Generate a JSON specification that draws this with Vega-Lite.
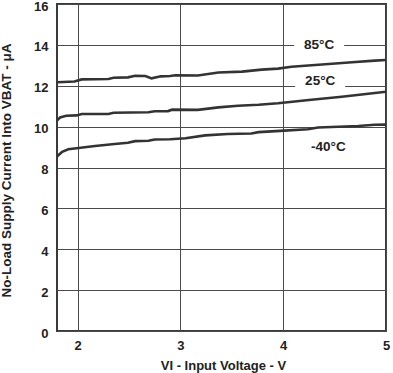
{
  "$schema": "https://vega.github.io/schema/vega-lite/v6.json",
  "width": 329,
  "height": 327,
  "autosize": {"type": "none"},
  "padding": {"left": 57, "top": 4, "right": 7, "bottom": 42},
  "background": "white",
  "config": {
    "font": "Liberation Sans",
    "view": {"stroke": "#3a3a3a", "strokeWidth": 2}
  },
  "datasets": {
    "curves": [
      {"v": 1.8, "i": 12.17, "t": "85°C"},
      {"v": 1.97, "i": 12.21, "t": "85°C"},
      {"v": 2.04, "i": 12.31, "t": "85°C"},
      {"v": 2.3, "i": 12.33, "t": "85°C"},
      {"v": 2.35, "i": 12.39, "t": "85°C"},
      {"v": 2.49, "i": 12.41, "t": "85°C"},
      {"v": 2.56, "i": 12.49, "t": "85°C"},
      {"v": 2.66, "i": 12.48, "t": "85°C"},
      {"v": 2.72, "i": 12.36, "t": "85°C"},
      {"v": 2.81, "i": 12.46, "t": "85°C"},
      {"v": 2.9, "i": 12.48, "t": "85°C"},
      {"v": 2.95, "i": 12.51, "t": "85°C"},
      {"v": 3.17, "i": 12.5, "t": "85°C"},
      {"v": 3.37, "i": 12.65, "t": "85°C"},
      {"v": 3.6, "i": 12.69, "t": "85°C"},
      {"v": 3.79, "i": 12.79, "t": "85°C"},
      {"v": 3.95, "i": 12.84, "t": "85°C"},
      {"v": 4.08, "i": 12.93, "t": "85°C"},
      {"v": 4.41, "i": 13.05, "t": "85°C"},
      {"v": 4.67, "i": 13.15, "t": "85°C"},
      {"v": 4.89, "i": 13.23, "t": "85°C"},
      {"v": 5.0, "i": 13.26, "t": "85°C"},
      {"v": 1.8, "i": 10.29, "t": "25°C"},
      {"v": 1.83, "i": 10.45, "t": "25°C"},
      {"v": 1.89, "i": 10.53, "t": "25°C"},
      {"v": 1.99, "i": 10.55, "t": "25°C"},
      {"v": 2.04, "i": 10.62, "t": "25°C"},
      {"v": 2.3, "i": 10.62, "t": "25°C"},
      {"v": 2.35, "i": 10.68, "t": "25°C"},
      {"v": 2.69, "i": 10.7, "t": "25°C"},
      {"v": 2.75, "i": 10.75, "t": "25°C"},
      {"v": 2.88, "i": 10.76, "t": "25°C"},
      {"v": 2.92, "i": 10.83, "t": "25°C"},
      {"v": 3.17, "i": 10.82, "t": "25°C"},
      {"v": 3.37, "i": 10.94, "t": "25°C"},
      {"v": 3.56, "i": 11.02, "t": "25°C"},
      {"v": 3.76, "i": 11.07, "t": "25°C"},
      {"v": 3.95, "i": 11.14, "t": "25°C"},
      {"v": 4.25, "i": 11.3, "t": "25°C"},
      {"v": 4.57, "i": 11.46, "t": "25°C"},
      {"v": 5.0, "i": 11.71, "t": "25°C"},
      {"v": 1.8, "i": 8.53, "t": "-40°C"},
      {"v": 1.85, "i": 8.77, "t": "-40°C"},
      {"v": 1.91, "i": 8.89, "t": "-40°C"},
      {"v": 2.01, "i": 8.95, "t": "-40°C"},
      {"v": 2.17, "i": 9.05, "t": "-40°C"},
      {"v": 2.36, "i": 9.15, "t": "-40°C"},
      {"v": 2.49, "i": 9.21, "t": "-40°C"},
      {"v": 2.56, "i": 9.29, "t": "-40°C"},
      {"v": 2.69, "i": 9.31, "t": "-40°C"},
      {"v": 2.75, "i": 9.37, "t": "-40°C"},
      {"v": 2.9, "i": 9.38, "t": "-40°C"},
      {"v": 3.05, "i": 9.43, "t": "-40°C"},
      {"v": 3.24, "i": 9.57, "t": "-40°C"},
      {"v": 3.46, "i": 9.64, "t": "-40°C"},
      {"v": 3.69, "i": 9.66, "t": "-40°C"},
      {"v": 3.76, "i": 9.73, "t": "-40°C"},
      {"v": 3.97, "i": 9.79, "t": "-40°C"},
      {"v": 4.24, "i": 9.87, "t": "-40°C"},
      {"v": 4.34, "i": 9.96, "t": "-40°C"},
      {"v": 4.73, "i": 10.03, "t": "-40°C"},
      {"v": 4.89, "i": 10.09, "t": "-40°C"},
      {"v": 5.0, "i": 10.1, "t": "-40°C"}
    ],
    "labels": [
      {"v": 4.35, "i": 13.97, "label": "85°C"},
      {"v": 4.36, "i": 12.23, "label": "25°C"},
      {"v": 4.44, "i": 9.0, "label": "-40°C"}
    ]
  },
  "encoding": {
    "x": {
      "field": "v",
      "type": "quantitative",
      "scale": {"domain": [1.8, 5], "nice": false, "zero": false},
      "axis": {
        "values": [2, 3, 4, 5],
        "title": "VI - Input Voltage - V",
        "titleFont": "Liberation Sans",
        "titleFontSize": 13,
        "titleFontWeight": "bold",
        "titleColor": "#222",
        "titleBaseline": "alphabetic",
        "titleY": 38,
        "titleX": 166,
        "labelFont": "Liberation Sans",
        "labelFontSize": 13,
        "labelFontWeight": "bold",
        "labelColor": "#222",
        "labelPadding": 8,
        "ticks": false,
        "tickSize": 0,
        "domain": false,
        "grid": true,
        "gridColor": "#4a4a4a",
        "gridWidth": 1,
        "gridOpacity": 1,
        "labelFlush": false
      }
    },
    "y": {
      "field": "i",
      "type": "quantitative",
      "scale": {"domain": [0, 16], "nice": false},
      "axis": {
        "values": [0, 2, 4, 6, 8, 10, 12, 14, 16],
        "title": "No-Load Supply Current Into VBAT -  μA",
        "titleFont": "Liberation Sans",
        "titleFontSize": 13.5,
        "titleFontWeight": "bold",
        "titleColor": "#222",
        "titleX": -44,
        "titleY": 166,
        "labelFont": "Liberation Sans",
        "labelFontSize": 13,
        "labelFontWeight": "bold",
        "labelColor": "#222",
        "labelPadding": 9,
        "labelOffset": 2,
        "ticks": false,
        "tickSize": 0,
        "domain": false,
        "grid": true,
        "gridColor": "#4a4a4a",
        "gridWidth": 1,
        "gridOpacity": 1,
        "labelFlush": false
      }
    }
  },
  "layer": [
    {
      "data": {"name": "curves"},
      "mark": {"type": "line", "color": "#333333", "strokeWidth": 2.6, "interpolate": "linear", "clip": true},
      "encoding": {"detail": {"field": "t"}}
    },
    {
      "data": {"name": "labels"},
      "mark": {"type": "point", "shape": "M-1,-0.4H1V0.4H-1Z", "size": 2500, "filled": true, "fill": "white", "color": "white", "opacity": 1, "strokeWidth": 0}
    },
    {
      "data": {"name": "labels"},
      "mark": {"type": "text", "font": "Liberation Sans", "fontSize": 13.5, "fontWeight": "bold", "color": "#222", "align": "center", "baseline": "middle"},
      "encoding": {"text": {"field": "label"}}
    }
  ]
}
